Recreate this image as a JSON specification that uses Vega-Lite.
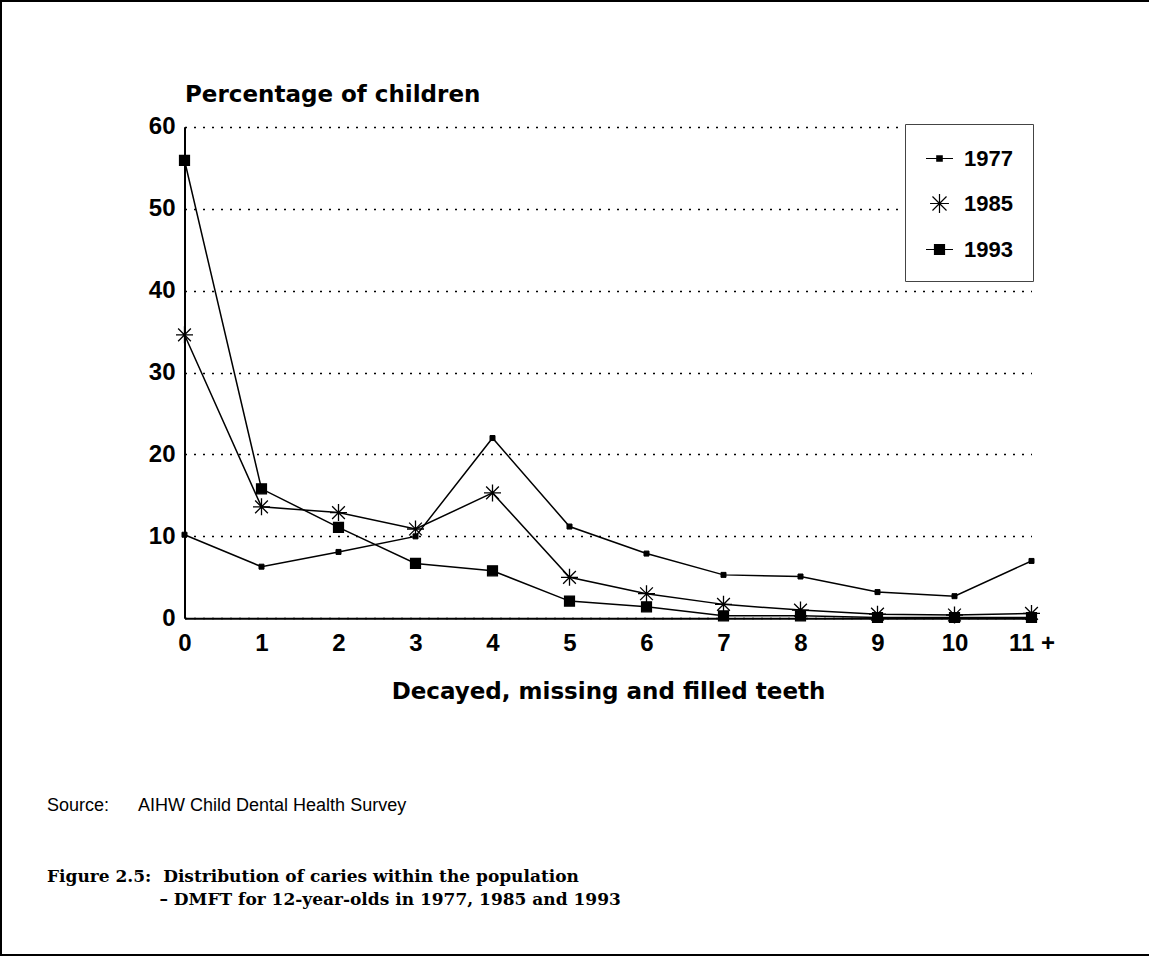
{
  "$schema": "https://vega.github.io/schema/vega-lite/v6.json",
  "width": 1149,
  "height": 954,
  "autosize": {"type": "none"},
  "padding": {"left": 1, "top": 1, "right": -1, "bottom": 1},
  "background": "white",
  "config": {
    "view": {"stroke": "black", "strokeWidth": 2},
    "font": "Liberation Sans"
  },
  "title": {
    "text": "Source:\u00a0\u00a0\u00a0\u00a0\u00a0 AIHW Child Dental Health Survey",
    "subtitle": [
      "Figure 2.5:\u00a0 Distribution of caries within the population",
      "\u200b\u00a0\u00a0\u00a0\u00a0\u00a0\u00a0\u00a0\u00a0\u00a0\u00a0\u00a0\u00a0\u00a0\u00a0\u00a0\u00a0\u00a0\u00a0\u00a0\u2013 DMFT for 12-year-olds in 1977, 1985 and 1993"
    ],
    "orient": "bottom",
    "anchor": "start",
    "frame": "group",
    "offset": 0,
    "dx": 46,
    "dy": -158,
    "font": "Liberation Sans",
    "fontSize": 18,
    "fontWeight": "normal",
    "color": "black",
    "subtitleFont": "DejaVu Serif",
    "subtitleFontSize": 17,
    "subtitleFontWeight": "bold",
    "subtitleColor": "black",
    "subtitlePadding": 54,
    "subtitleLineHeight": 23
  },
  "data": {
    "values": [
      {"teeth": "0", "year": "1977", "pct": 10.2},
      {"teeth": "1", "year": "1977", "pct": 6.3},
      {"teeth": "2", "year": "1977", "pct": 8.1},
      {"teeth": "3", "year": "1977", "pct": 10.0},
      {"teeth": "4", "year": "1977", "pct": 22.0},
      {"teeth": "5", "year": "1977", "pct": 11.2},
      {"teeth": "6", "year": "1977", "pct": 7.9},
      {"teeth": "7", "year": "1977", "pct": 5.3},
      {"teeth": "8", "year": "1977", "pct": 5.1},
      {"teeth": "9", "year": "1977", "pct": 3.2},
      {"teeth": "10", "year": "1977", "pct": 2.7},
      {"teeth": "11 +", "year": "1977", "pct": 7.0},
      {"teeth": "0", "year": "1985", "pct": 34.6},
      {"teeth": "1", "year": "1985", "pct": 13.6},
      {"teeth": "2", "year": "1985", "pct": 12.9},
      {"teeth": "3", "year": "1985", "pct": 10.9},
      {"teeth": "4", "year": "1985", "pct": 15.3},
      {"teeth": "5", "year": "1985", "pct": 5.0},
      {"teeth": "6", "year": "1985", "pct": 3.0},
      {"teeth": "7", "year": "1985", "pct": 1.7},
      {"teeth": "8", "year": "1985", "pct": 1.0},
      {"teeth": "9", "year": "1985", "pct": 0.5},
      {"teeth": "10", "year": "1985", "pct": 0.4},
      {"teeth": "11 +", "year": "1985", "pct": 0.6},
      {"teeth": "0", "year": "1993", "pct": 55.9},
      {"teeth": "1", "year": "1993", "pct": 15.8},
      {"teeth": "2", "year": "1993", "pct": 11.1},
      {"teeth": "3", "year": "1993", "pct": 6.7},
      {"teeth": "4", "year": "1993", "pct": 5.8},
      {"teeth": "5", "year": "1993", "pct": 2.1},
      {"teeth": "6", "year": "1993", "pct": 1.4},
      {"teeth": "7", "year": "1993", "pct": 0.3},
      {"teeth": "8", "year": "1993", "pct": 0.3},
      {"teeth": "9", "year": "1993", "pct": 0.1},
      {"teeth": "10", "year": "1993", "pct": 0.1},
      {"teeth": "11 +", "year": "1993", "pct": 0.1}
    ]
  },
  "encoding": {
    "x": {
      "field": "teeth",
      "type": "ordinal",
      "sort": null,
      "scale": {"type": "point", "range": [183.5, 1030.5], "padding": 0},
      "axis": {
        "title": "Decayed, missing and filled teeth",
        "orient": "bottom",
        "offset": -336.7,
        "grid": false,
        "domainColor": "black",
        "domainWidth": 2,
        "ticks": false,
        "tickSize": 0,
        "labelPadding": 13,
        "labelAngle": 0,
        "labelFont": "Liberation Sans",
        "labelFontSize": 24,
        "labelFontWeight": "bold",
        "labelColor": "black",
        "titleFont": "DejaVu Sans",
        "titleFontSize": 23,
        "titleFontWeight": "bold",
        "titleColor": "black",
        "titleBaseline": "alphabetic",
        "titleY": 80
      }
    },
    "y": {
      "field": "pct",
      "type": "quantitative",
      "scale": {"domain": [0, 60], "range": [617.3, 125.7], "nice": false, "zero": true},
      "axis": {
        "title": "Percentage of children",
        "orient": "left",
        "offset": -183.5,
        "values": [0, 10, 20, 30, 40, 50, 60],
        "grid": true,
        "gridDash": [2, 7],
        "gridColor": "black",
        "gridWidth": 1.5,
        "domainColor": "black",
        "domainWidth": 2,
        "ticks": false,
        "tickSize": 0,
        "labelPadding": 9.5,
        "labelFont": "Liberation Sans",
        "labelFontSize": 24,
        "labelFontWeight": "bold",
        "labelColor": "black",
        "titleFont": "DejaVu Sans",
        "titleFontSize": 23,
        "titleFontWeight": "bold",
        "titleColor": "black",
        "titleAngle": 0,
        "titleAlign": "left",
        "titleBaseline": "alphabetic",
        "titleX": 0,
        "titleY": 100
      }
    }
  },
  "layer": [
    {
      "mark": {"type": "line", "strokeWidth": 1.5, "color": "black"},
      "encoding": {
        "detail": {"field": "year", "type": "nominal"}
      }
    },
    {
      "transform": [{"filter": {"field": "year", "equal": "1977"}}],
      "mark": {"type": "point", "shape": "square", "size": 25, "filled": true, "fill": "black", "stroke": "black", "strokeWidth": 1, "opacity": 1}
    },
    {
      "transform": [{"filter": {"field": "year", "equal": "1985"}}],
      "mark": {"type": "point", "shape": "M-1,0H1M0,-1V1M-0.75,-0.75L0.75,0.75M-0.75,0.75L0.75,-0.75", "size": 289, "filled": false, "stroke": "black", "strokeWidth": 1.3, "opacity": 1}
    },
    {
      "transform": [{"filter": {"field": "year", "equal": "1993"}}],
      "mark": {"type": "point", "shape": "square", "size": 100, "filled": true, "fill": "black", "stroke": "black", "strokeWidth": 1.2, "opacity": 1}
    },
    {
      "transform": [{"filter": "false"}],
      "mark": {"type": "point", "size": 729, "filled": false, "color": "black", "stroke": "black", "strokeWidth": 1.2, "opacity": 1},
      "encoding": {
        "shape": {
          "field": "year",
          "type": "nominal",
          "scale": {
            "domain": ["1977", "1985", "1993"],
            "range": [
              "M-1,0H1M-0.2,-0.2H0.2V0.2H-0.2ZM-0.2,-0.13H0.2M-0.2,-0.07H0.2M-0.2,0.07H0.2M-0.2,0.13H0.2",
              "M-0.7,0H0.7M0,-0.7V0.7M-0.52,-0.52L0.52,0.52M-0.52,0.52L0.52,-0.52",
              "M-1,0H1M-0.37,-0.37H0.37V0.37H-0.37ZM-0.37,-0.3H0.37M-0.37,-0.23H0.37M-0.37,-0.16H0.37M-0.37,-0.08H0.37M-0.37,0.08H0.37M-0.37,0.16H0.37M-0.37,0.23H0.37M-0.37,0.3H0.37"
            ]
          },
          "legend": {
            "orient": "none",
            "legendX": 904,
            "legendY": 123,
            "title": null,
            "padding": 20,
            "symbolSize": 729,
            "rowPadding": 19,
            "labelOffset": 10,
            "labelFont": "Liberation Sans",
            "labelFontSize": 22,
            "labelFontWeight": "bold",
            "labelColor": "black",
            "strokeColor": "#444444",
            "fillColor": "white",
            "symbolStrokeColor": "black",
            "symbolStrokeWidth": 1.2,
            "symbolOpacity": 1
          }
        }
      }
    }
  ]
}
